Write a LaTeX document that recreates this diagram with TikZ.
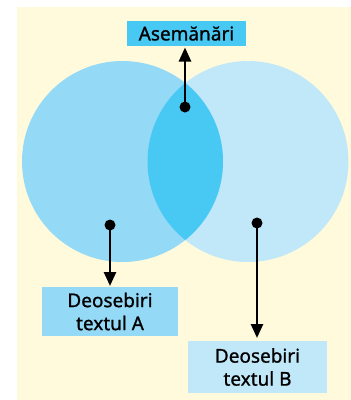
\documentclass[tikz,border=0pt]{standalone}
\usepackage{fontspec}
\setmainfont{Noto Sans}[FakeBold=1.0]
\usetikzlibrary{arrows.meta}
\definecolor{bgc}{HTML}{FFFADC}
\definecolor{cA}{HTML}{94D9F6}
\definecolor{cB}{HTML}{C1E8F8}
\definecolor{cAB}{HTML}{48C9F4}
\tikzset{
  lbl/.style={inner sep=0pt, align=center, font=\fontsize{19}{23}\selectfont\bfseries, text=black},
  conn/.style={line width=2.5pt, -{Triangle[length=14pt,width=12pt]}},
  dot/.style={circle, fill=black, inner sep=0pt, minimum size=11pt}
}
\begin{document}
\begin{tikzpicture}[x=1pt,y=-1pt]
\useasboundingbox (0,0) rectangle (351,400);
\fill[bgc] (17,7) rectangle (351,400);
\fill[cB] (248,161.5) circle (100.5);
\fill[cA] (122.5,161.5) circle (100.5);
\begin{scope}
  \clip (122.5,161.5) circle (100.5);
  \fill[cAB] (248,161.5) circle (100.5);
\end{scope}
% boxes
\fill[cAB] (127,21) rectangle (246,46);
\node[lbl] (asem) at (186.5,33.5) {Asemănări};
\fill[cA] (42,287) rectangle (178,336);
\node[lbl] (boxA) at (110,311.5) {Deosebiri\\textul A};
\fill[cB] (188,341) rectangle (327,393);
\node[lbl] (boxB) at (257.5,367) {Deosebiri\\textul B};
% dots
\node[dot] (d0) at (185,107) {};
\node[dot] (dA) at (110,225) {};
\node[dot] (dB) at (257,223) {};
\coordinate (t0) at (185,47.5);
\coordinate (tA) at (110,286);
\coordinate (tB) at (257,338);
\draw[conn] (d0.center) -- (t0);
\draw[conn] (dA.center) -- (tA);
\draw[conn] (dB.center) -- (tB);
\end{tikzpicture}
\end{document}
